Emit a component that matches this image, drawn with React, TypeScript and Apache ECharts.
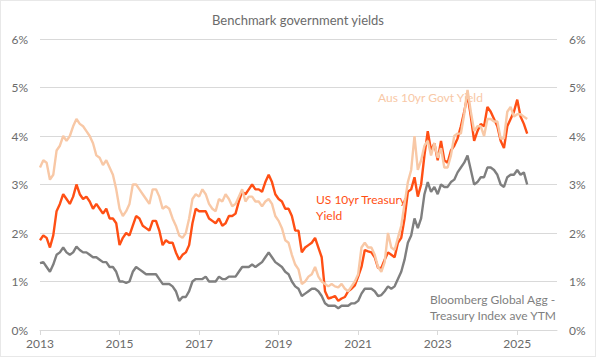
import React, { useEffect, useRef } from "react";
import * as echarts from "echarts";

const START_YEAR = 2013;
const X_MIN = 2013;
const X_MAX = 2026;
const X_TICKS = [2013, 2015, 2017, 2019, 2021, 2023, 2025];
const TITLE = "Benchmark government yields";

// monthly readings, Jan 2013 .. Apr 2025 (%)
const usYield = [
  1.85, 1.95, 1.9, 1.7, 1.95, 2.45, 2.6, 2.8, 2.7, 2.6, 2.75, 3.0,
  2.8, 2.7, 2.75, 2.65, 2.5, 2.6, 2.5, 2.4, 2.5, 2.3, 2.3, 2.2,
  1.75, 1.9, 2.0, 1.95, 2.15, 2.35, 2.3, 2.15, 2.1, 2.05, 2.25, 2.25,
  2.05, 1.75, 1.85, 1.8, 1.8, 1.6, 1.45, 1.55, 1.6, 1.75, 2.2, 2.5,
  2.45, 2.45, 2.45, 2.3, 2.25, 2.2, 2.3, 2.15, 2.2, 2.35, 2.35, 2.4,
  2.65, 2.85, 2.8, 2.9, 3.0, 2.9, 2.9, 2.85, 3.05, 3.2, 3.05, 2.8,
  2.7, 2.65, 2.5, 2.5, 2.35, 2.05, 2.05, 1.6, 1.7, 1.75, 1.8, 1.9,
  1.7, 1.5, 0.8, 0.65, 0.67, 0.7, 0.6, 0.65, 0.68, 0.8, 0.85, 0.92,
  1.1, 1.3, 1.65, 1.62, 1.6, 1.5, 1.28, 1.28, 1.45, 1.6, 1.55, 1.5,
  1.8, 1.9, 2.3, 2.85, 2.9, 3.15, 2.75, 3.0, 3.6, 4.1, 3.7, 3.85,
  3.5, 3.9, 3.5, 3.45, 3.7, 3.8, 3.95, 4.2, 4.5, 4.85, 4.4, 3.9,
  4.1, 4.25, 4.2, 4.6, 4.5, 4.35, 4.2, 3.9, 3.75, 4.2, 4.35, 4.5,
  4.75, 4.4, 4.25, 4.05,
];

const ausYield = [
  3.35, 3.5, 3.45, 3.1, 3.2, 3.7, 3.8, 4.0, 3.9, 4.0, 4.2, 4.35,
  4.25, 4.2, 4.1, 4.0, 3.85, 3.6, 3.55, 3.4, 3.5, 3.35, 3.2, 2.9,
  2.5, 2.35, 2.45, 2.6, 3.0, 3.0, 2.9, 2.8, 2.7, 2.6, 2.9, 2.9,
  2.75, 2.5, 2.55, 2.5, 2.3, 2.15, 1.95, 1.9, 2.0, 2.3, 2.7, 2.8,
  2.75, 2.9, 2.8, 2.6, 2.5, 2.45, 2.7, 2.65, 2.8, 2.7, 2.55, 2.6,
  2.75, 2.9, 2.65, 2.75, 2.75, 2.65, 2.65, 2.55, 2.65, 2.7, 2.6, 2.35,
  2.25, 2.1, 1.85, 1.8, 1.55, 1.35, 1.25, 0.95, 1.0, 1.1, 1.15, 1.3,
  1.1, 1.0, 0.95, 0.9, 0.95, 0.9, 0.88, 0.95, 0.85, 0.8, 0.9, 1.0,
  1.15, 1.7, 1.8, 1.7, 1.7, 1.55, 1.3, 1.2, 1.4, 2.0, 1.7, 1.65,
  1.9, 2.15, 2.6, 3.05, 3.3, 4.0, 3.3, 3.5, 3.8, 3.9, 3.6, 3.85,
  3.55, 3.75, 3.35, 3.35, 3.6, 4.0, 4.05, 4.05, 4.45, 4.95, 4.5, 4.1,
  4.2, 4.2, 4.0, 4.35, 4.35, 4.3, 4.3, 3.95, 3.95, 4.5, 4.6, 4.4,
  4.45, 4.45, 4.4, 4.35,
];

const bbgYield = [
  1.38, 1.4, 1.3, 1.2, 1.35, 1.55, 1.6, 1.7, 1.6, 1.55, 1.6, 1.72,
  1.65, 1.6, 1.6, 1.55, 1.5, 1.5, 1.45, 1.4, 1.4, 1.3, 1.3, 1.2,
  1.0, 1.0, 0.97, 1.0, 1.2, 1.3, 1.25, 1.2, 1.15, 1.15, 1.15, 1.15,
  1.05, 0.95, 0.95, 0.95, 0.9, 0.8, 0.6, 0.68, 0.68, 0.8, 1.0, 1.05,
  1.05, 1.05, 1.1, 1.0, 1.0, 1.0, 1.1, 1.05, 1.05, 1.1, 1.1, 1.1,
  1.2, 1.3, 1.3, 1.3, 1.35, 1.3, 1.35, 1.4, 1.5, 1.6, 1.5, 1.4,
  1.35, 1.3, 1.2, 1.15, 1.0, 0.9, 0.85, 0.7, 0.75, 0.8, 0.85, 0.85,
  0.8, 0.7, 0.55, 0.5, 0.5, 0.5, 0.45, 0.5, 0.5, 0.5, 0.55, 0.55,
  0.6, 0.75, 0.85, 0.85, 0.85, 0.8, 0.7, 0.72, 0.8, 0.9, 0.85, 0.9,
  1.05, 1.2, 1.45, 1.8, 1.95, 2.3, 2.1, 2.3, 2.8, 3.05, 2.85, 2.95,
  2.8, 3.0, 2.95, 2.95, 3.05, 3.1, 3.25, 3.35, 3.45, 3.6, 3.3, 3.0,
  3.05, 3.15, 3.15, 3.35, 3.35, 3.3, 3.2, 3.0, 2.95, 3.15, 3.2, 3.2,
  3.3, 3.2, 3.25, 3.0,
];

const toPoints = (vals: number[]) =>
  vals.map((v, i) => [START_YEAR + i / 12, v]);

const FONT = "Lato, 'Noto Sans', sans-serif";
const TXT = "#6b6b6b";

export default function App() {
  const ref = useRef<HTMLDivElement>(null);
  useEffect(() => {
    if (!ref.current) return;
    const chart = echarts.init(ref.current, undefined, { renderer: "svg" });
    const yAxisBase = {
      type: "value",
      min: 0,
      max: 6,
      interval: 1,
      axisLine: { show: false },
      axisTick: { show: false },
      axisLabel: {
        formatter: "{value}%",
        color: TXT,
        fontSize: 12,
        fontFamily: FONT,
        margin: 12,
      },
    };
    chart.setOption({
      animation: false,
      backgroundColor: "#ffffff",
      textStyle: { fontFamily: FONT },
      title: {
        text: TITLE,
        left: "center",
        top: 7,
        textStyle: {
          color: TXT,
          fontSize: 13,
          fontWeight: "normal",
          fontFamily: FONT,
        },
      },
      grid: { left: 39, right: 38, top: 38, bottom: 26 },
      xAxis: {
        type: "value",
        min: X_MIN,
        max: X_MAX,
        splitLine: { show: false },
        axisLine: { show: true, lineStyle: { color: "#d9d9d9", width: 1 } },
        axisTick: {
          show: true,
          customValues: X_TICKS,
          length: 5,
          lineStyle: { color: "#d9d9d9" },
        },
        axisLabel: {
          customValues: X_TICKS,
          formatter: (v: number) => String(v),
          color: TXT,
          fontSize: 12,
          fontFamily: FONT,
          margin: 7,
        },
      },
      yAxis: [
        {
          ...yAxisBase,
          position: "left",
          splitLine: { show: true, lineStyle: { color: "#d9d9d9", width: 1 } },
        },
        {
          ...yAxisBase,
          position: "right",
          splitLine: { show: false },
        },
      ],
      series: [
        {
          name: "Bloomberg Global Agg - Treasury Index ave YTM",
          type: "line",
          data: toPoints(bbgYield),
          showSymbol: false,
          lineStyle: { color: "#7f7f7f", width: 2.4 },
          itemStyle: { color: "#7f7f7f" },
        },
        {
          name: "US 10yr Treasury Yield",
          type: "line",
          data: toPoints(usYield),
          showSymbol: false,
          lineStyle: { color: "#ff4f14", width: 2.4 },
          itemStyle: { color: "#ff4f14" },
        },
        {
          name: "Aus 10yr Govt Yield",
          type: "line",
          data: toPoints(ausYield),
          showSymbol: false,
          lineStyle: { color: "#f8c8a6", width: 2.4 },
          itemStyle: { color: "#f8c8a6" },
        },
      ],
      graphic: [
        {
          type: "text",
          left: 377,
          top: 90,
          style: {
            text: "Aus 10yr Govt Yield",
            fill: "#f8c8a6",
            fontSize: 12,
            fontFamily: FONT,
          },
        },
        {
          type: "text",
          left: 315,
          top: 190,
          style: {
            text: "US 10yr Treasury\nYield",
            fill: "#ff4f14",
            fontSize: 12,
            fontFamily: FONT,
            lineHeight: 16,
          },
        },
        {
          type: "text",
          left: 429,
          top: 290,
          style: {
            text: "Bloomberg Global Agg -\nTreasury Index ave YTM",
            fill: "#7f7f7f",
            fontSize: 12,
            fontFamily: FONT,
            lineHeight: 16,
          },
        },
      ],
    });
    return () => chart.dispose();
  }, []);
  return (
    <div
      style={{
        position: "fixed",
        left: 0,
        top: 0,
        width: 596,
        height: 357,
        boxSizing: "border-box",
        border: "1px solid #e8e8e8",
        background: "#fff",
      }}
    >
      <div ref={ref} style={{ width: 594, height: 355 }} />
    </div>
  );
}
